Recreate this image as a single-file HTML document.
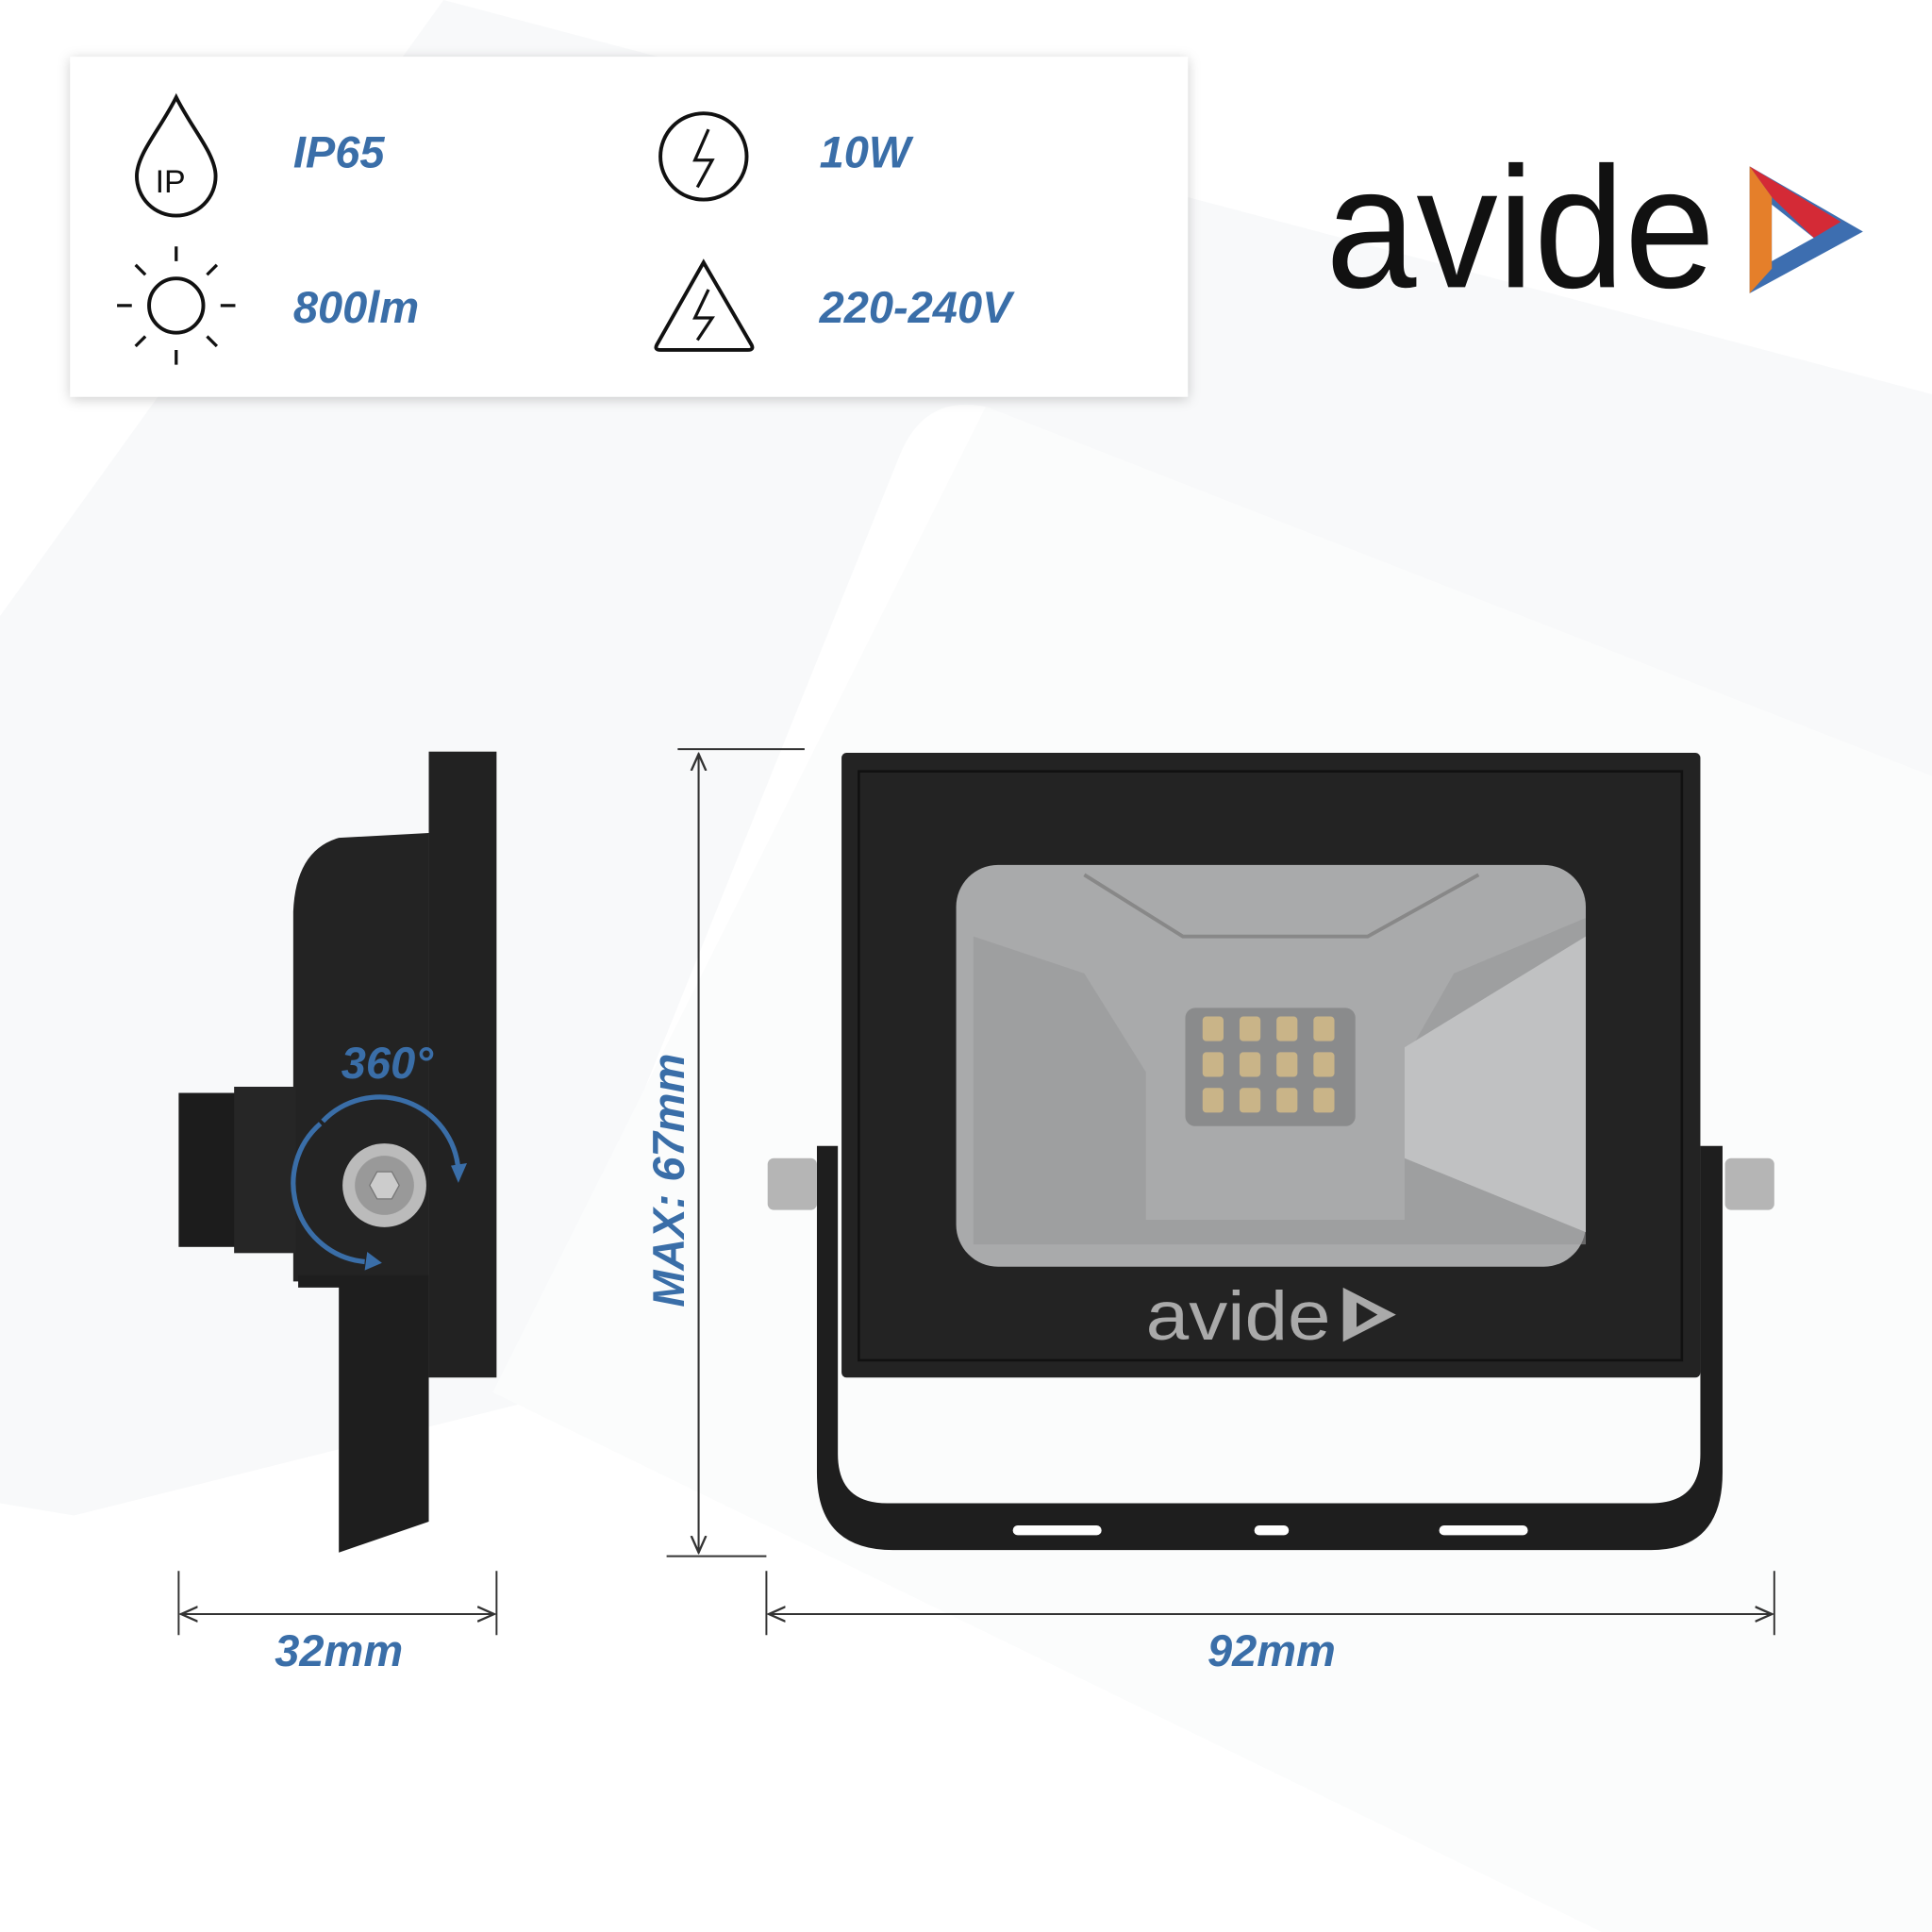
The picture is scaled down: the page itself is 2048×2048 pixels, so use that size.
<!DOCTYPE html>
<html><head><style>
html,body{margin:0;padding:0;background:#fff;width:2048px;height:2048px;overflow:hidden}
svg{display:block}
text{font-family:"Liberation Sans",sans-serif}
.b{fill:#3a6ea8;font-weight:bold;font-style:italic}
</style></head><body>
<svg width="2048" height="2048" viewBox="0 0 1568 1568" xmlns="http://www.w3.org/2000/svg">
<defs>
<marker id="ar" markerWidth="10" markerHeight="10" refX="9" refY="5" orient="auto"><path d="M0,1 L9,5 L0,9" fill="none" stroke="#333" stroke-width="1.2"/></marker>
<filter id="sh" x="-5%" y="-20%" width="110%" height="140%"><feDropShadow dx="0" dy="2" stdDeviation="5" flood-color="#000" flood-opacity="0.2"/></filter>
</defs>
<rect width="1568" height="1568" fill="#fff"/>
<path d="M360,0 L1568,320 L1568,630 L800,330 Q750,320 730,370 L420,1140 L60,1230 L0,1220 L0,500 Z" fill="#f8f9fa"/>
<path d="M800,330 L1568,630 L1568,1568 L1300,1568 L400,1130 Z" fill="#fbfcfc"/>
<!-- spec panel -->
<rect x="57" y="46" width="907" height="276" fill="#fff" filter="url(#sh)"/>
<g fill="none" stroke="#111" stroke-width="3">
<path d="M143,79 C130,105 111,125 111,143 A32,32 0 0 0 175,143 C175,125 156,105 143,79 Z"/>
<circle cx="571" cy="127" r="35"/>
<path d="M575,105 L564,130 L578,130 L566,152" stroke-width="2.5"/>
<circle cx="143" cy="248" r="22"/>
<path d="M143,200v12M143,284v12M95,248h12M179,248h12M110,215l8,8M176,215l-8,8M110,281l8,-8M176,281l-8,-8" stroke-width="2.5"/>
<path d="M571,213 L533,280 Q531,284 536,284 L607,284 Q612,284 610,280 Z"/>
<path d="M575,235 L564,258 L578,258 L566,276" stroke-width="2.5"/>
</g>
<text x="126" y="156" font-size="26" fill="#111">IP</text>
<text class="b" x="238" y="136" font-size="36">IP65</text>
<text class="b" x="665" y="136" font-size="36">10W</text>
<text class="b" x="238" y="262" font-size="36">800lm</text>
<text class="b" x="665" y="262" font-size="36">220-240V</text>
<!-- logo -->
<text x="1076" y="233" font-size="140" fill="#111" textLength="316" lengthAdjust="spacingAndGlyphs">avide</text>
<path d="M1420,135 L1512,188 L1420,238 Z" fill="#3d6eb0"/>
<path d="M1420,135 L1494,180 L1472,193 L1438,160 Z" fill="#d42a36"/>
<path d="M1420,135 L1438,160 L1438,218 L1420,238 Z" fill="#e57f2a"/>
<path d="M1438,166 L1472,193 L1438,212 Z" fill="#fff"/>
<!-- side view -->
<rect x="348" y="610" width="55" height="508" fill="#222"/>
<path d="M275,680 L348,676 L348,1040 L238,1040 L238,740 Q240,690 275,680 Z" fill="#232323"/>
<path d="M242,1035 L348,1035 L348,1235 L275,1260 L275,1045 L242,1045 Z" fill="#1e1e1e"/>
<rect x="145" y="887" width="95" height="125" fill="#1c1c1c"/>
<rect x="190" y="882" width="50" height="135" fill="#262626"/>
<circle cx="312" cy="962" r="34" fill="#bbb"/>
<circle cx="312" cy="962" r="24" fill="#999"/>
<path d="M300,962 l6,-11 h12 l6,11 l-6,11 h-12 Z" fill="#ccc" stroke="#777"/>
<path d="M296,1024 A64,64 0 0 1 260,912" fill="none" stroke="#3a6ea8" stroke-width="4"/>
<path d="M262,910 A64,64 0 0 1 372,950" fill="none" stroke="#3a6ea8" stroke-width="4"/>
<path d="M366,946 L372,960 L379,944 Z M298,1016 L310,1025 L296,1031 Z" fill="#3a6ea8"/>
<text class="b" x="277" y="875" font-size="36">360°</text>
<!-- front view -->
<path d="M663,930 L663,1195 Q663,1258 725,1258 L1340,1258 Q1398,1258 1398,1195 L1398,930 L1380,930 L1380,1180 Q1380,1220 1340,1220 L720,1220 Q680,1220 680,1180 L680,930 Z" fill="#1e1e1e"/>
<rect x="683" y="611" width="697" height="507" rx="4" fill="#232323"/>
<rect x="697" y="626" width="668" height="478" fill="none" stroke="#111" stroke-width="2"/>
<rect x="776" y="702" width="511" height="326" rx="34" fill="#a9aaab"/>
<path d="M790,760 L880,790 L930,870 L930,990 L1140,990 L1140,860 L1180,790 L1287,745 L1287,1010 L790,1010 Z" fill="#979899" opacity="0.6"/>
<path d="M1140,850 L1287,760 L1287,1000 L1140,940 Z" fill="#c0c1c2"/>
<path d="M880,710 L960,760 L1110,760 L1200,710" fill="none" stroke="#888" stroke-width="3"/>
<rect x="962" y="818" width="138" height="96" rx="8" fill="#8a8b8c"/>
<g fill="#c9b488">
<rect x="976" y="825" width="17" height="20" rx="3"/><rect x="1006" y="825" width="17" height="20" rx="3"/><rect x="1036" y="825" width="17" height="20" rx="3"/><rect x="1066" y="825" width="17" height="20" rx="3"/>
<rect x="976" y="854" width="17" height="20" rx="3"/><rect x="1006" y="854" width="17" height="20" rx="3"/><rect x="1036" y="854" width="17" height="20" rx="3"/><rect x="1066" y="854" width="17" height="20" rx="3"/>
<rect x="976" y="883" width="17" height="20" rx="3"/><rect x="1006" y="883" width="17" height="20" rx="3"/><rect x="1036" y="883" width="17" height="20" rx="3"/><rect x="1066" y="883" width="17" height="20" rx="3"/>
</g>
<text x="930" y="1087" font-size="56" fill="#aaa" textLength="150" lengthAdjust="spacingAndGlyphs">avide</text>
<path d="M1090,1045 L1133,1067 L1090,1089 Z" fill="#aaa"/>
<path d="M1101,1057 L1118,1067 L1101,1077 Z" fill="#232323"/>
<rect x="822" y="1238" width="72" height="8" rx="4" fill="#fff"/>
<rect x="1018" y="1238" width="28" height="8" rx="4" fill="#fff"/>
<rect x="1168" y="1238" width="72" height="8" rx="4" fill="#fff"/>
<rect x="623" y="940" width="40" height="42" rx="5" fill="#b5b5b5"/>
<rect x="1400" y="940" width="40" height="42" rx="5" fill="#b5b5b5"/>
<!-- dimension lines -->
<g stroke="#333" stroke-width="1.5" fill="none">
<path d="M550,608 H653 M541,1263 H622"/>
<path d="M567,1260 V612" marker-end="url(#ar)"/>
<path d="M567,612 V1260" marker-end="url(#ar)"/>
<path d="M145,1275 V1327 M403,1275 V1327 M622,1275 V1327 M1440,1275 V1327"/>
<path d="M147,1310 H401" marker-end="url(#ar)"/>
<path d="M401,1310 H147" marker-end="url(#ar)"/>
<path d="M624,1310 H1438" marker-end="url(#ar)"/>
<path d="M1438,1310 H624" marker-end="url(#ar)"/>
</g>
<text class="b" x="275" y="1352" font-size="36" text-anchor="middle">32mm</text>
<text class="b" x="1032" y="1352" font-size="36" text-anchor="middle">92mm</text>
<text class="b" x="0" y="0" font-size="36" text-anchor="middle" transform="translate(555,958) rotate(-90)">MAX: 67mm</text>
</svg>
</body></html>
